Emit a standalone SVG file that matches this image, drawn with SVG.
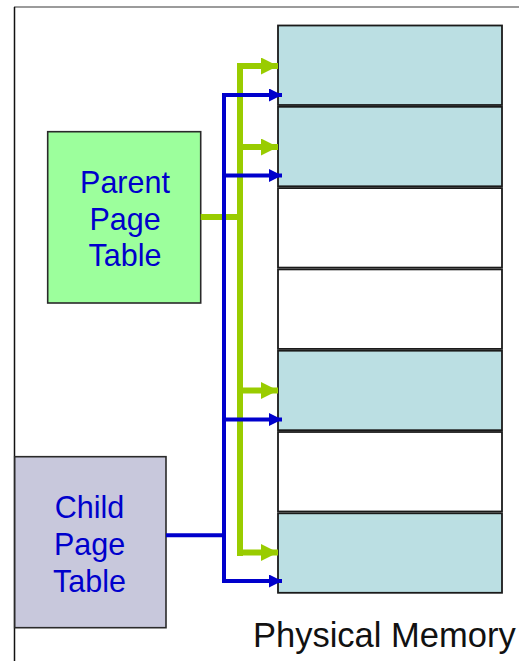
<svg xmlns="http://www.w3.org/2000/svg" width="519" height="661" viewBox="0 0 519 661">
  <style>
    .frame-top { stroke: #7a7a7a; stroke-width: 1.5; fill: none; }
    .frame-left { stroke: #111; stroke-width: 1.5; fill: none; }
    .frame-used { fill: #bbdfe3; stroke: #1a1a1a; stroke-width: 1.8; }
    .frame-free { fill: #ffffff; stroke: #1a1a1a; stroke-width: 1.8; }
    .table-box { stroke: #2a2a2a; stroke-width: 1.6; }
    .label { font-family: "Liberation Sans", Arial, sans-serif; font-size: 30.5px; fill: #0000cc; text-anchor: middle; }
    .caption { font-family: "Liberation Sans", Arial, sans-serif; font-size: 34.5px; fill: #111; }
    .green { stroke: #99cc00; stroke-width: 6; fill: none; }
    .blue { stroke: #0000cc; stroke-width: 4; fill: none; }
  </style>
  <defs>
    <marker id="headGreen" viewBox="0 0 17 17" refX="17" refY="8.5" markerWidth="17" markerHeight="17" markerUnits="userSpaceOnUse" orient="auto">
      <path d="M0,0 L17,8.5 L0,17 Z" fill="#99cc00"/>
    </marker>
    <marker id="headBlue" viewBox="0 0 13 13" refX="13" refY="6.5" markerWidth="13" markerHeight="13" markerUnits="userSpaceOnUse" orient="auto">
      <path d="M0,0 L13,6.5 L0,13 Z" fill="#0000cc"/>
    </marker>
  </defs>

  <!-- outer frame edges -->
  <line class="frame-top" x1="14" y1="7" x2="519" y2="7"/>
  <line class="frame-left" x1="14.5" y1="7" x2="14.5" y2="661"/>

  <!-- physical memory frames -->
  <g id="physical-memory">
    <rect class="frame-used" x="278" y="25.5" width="224" height="79.5"/>
    <rect class="frame-used" x="278" y="106.8" width="224" height="79.5"/>
    <rect class="frame-free" x="278" y="188.1" width="224" height="79.5"/>
    <rect class="frame-free" x="278" y="269.4" width="224" height="79.5"/>
    <rect class="frame-used" x="278" y="350.7" width="224" height="79.5"/>
    <rect class="frame-free" x="278" y="432" width="224" height="79.5"/>
    <rect class="frame-used" x="278" y="513.3" width="224" height="79.5"/>
    <text class="caption" x="253" y="646.5">Physical Memory</text>
  </g>

  <!-- parent page table -->
  <g id="parent-page-table">
    <rect class="table-box" x="47.7" y="131.7" width="153" height="171.3" fill="#9cff9c"/>
    <text class="label" x="125" y="193">Parent</text>
    <text class="label" x="125" y="229.5">Page</text>
    <text class="label" x="125" y="266">Table</text>
  </g>

  <!-- child page table -->
  <g id="child-page-table">
    <rect class="table-box" x="14.7" y="456.7" width="151.3" height="171" fill="#c8c8dc"/>
    <text class="label" x="89.5" y="518">Child</text>
    <text class="label" x="89.5" y="555">Page</text>
    <text class="label" x="89.5" y="591.5">Table</text>
  </g>

  <!-- mappings from page tables to frames -->
  <g id="connectors">
    <g id="parent-mappings">
      <path class="green" d="M200.7,217 H240 M240,63 V556"/>
      <path class="green" d="M237,66 H278" marker-end="url(#headGreen)"/>
      <path class="green" d="M240,147 H278" marker-end="url(#headGreen)"/>
      <path class="green" d="M240,390.5 H278" marker-end="url(#headGreen)"/>
      <path class="green" d="M240,552.5 H278" marker-end="url(#headGreen)"/>
    </g>
    <g id="child-mappings">
      <path class="blue" d="M166,535.3 H224 M224,93 V583"/>
      <path class="blue" d="M222,95 H282" marker-end="url(#headBlue)"/>
      <path class="blue" d="M224,175.5 H282" marker-end="url(#headBlue)"/>
      <path class="blue" d="M224,419.5 H282" marker-end="url(#headBlue)"/>
      <path class="blue" d="M222,581 H282" marker-end="url(#headBlue)"/>
    </g>
  </g>
</svg>
